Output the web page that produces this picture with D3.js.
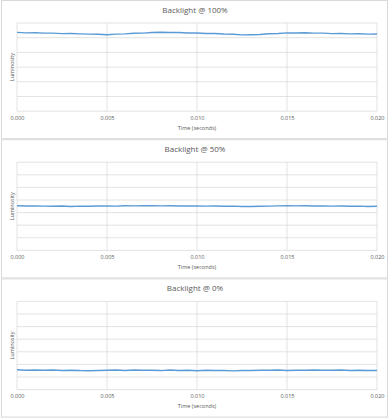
<!DOCTYPE html>
<html>
<head>
<meta charset="utf-8">
<script src="https://cdn.jsdelivr.net/npm/d3@7"></script>
<style>
  body { margin: 0; background: #fff; }
  text { font-family: "Open Sans", sans-serif; fill: #595959; }
</style>
</head>
<body>
<div id="chart"></div>
<script>
// sample times (seconds)
var times = [0.0000, 0.0005, 0.0010, 0.0015, 0.0020, 0.0025, 0.0030, 0.0035, 0.0040, 0.0045,
             0.0050, 0.0055, 0.0060, 0.0065, 0.0070, 0.0075, 0.0080, 0.0085, 0.0090, 0.0095,
             0.0100, 0.0105, 0.0110, 0.0115, 0.0120, 0.0125, 0.0130, 0.0135, 0.0140, 0.0145,
             0.0150, 0.0155, 0.0160, 0.0165, 0.0170, 0.0175, 0.0180, 0.0185, 0.0190, 0.0195,
             0.0200];

var lum100 = [53.6, 53.3, 53.4, 53.1, 53.1, 52.8, 52.9, 52.6, 52.4, 52.3,
              52.0, 52.4, 52.6, 53.0, 53.1, 53.5, 53.7, 53.5, 53.5, 53.2,
              53.2, 52.9, 52.9, 52.5, 52.3, 51.9, 52.0, 52.2, 52.7, 52.9,
              53.3, 53.2, 53.4, 53.1, 53.1, 52.8, 52.9, 52.6, 52.7, 52.4,
              52.5];
var lum50 = [35.4, 35.2, 35.3, 35.1, 35.0, 35.2, 34.9, 35.1, 35.0, 35.2,
             35.3, 35.1, 35.4, 35.3, 35.5, 35.4, 35.3, 35.4, 35.2, 35.3,
             35.2, 35.1, 35.2, 35.0, 35.1, 34.9, 34.8, 35.0, 35.1, 35.3,
             35.4, 35.3, 35.4, 35.2, 35.3, 35.1, 35.2, 35.0, 35.1, 34.9,
             35.0];
var lum0 = [15.8, 15.4, 15.6, 15.3, 15.5, 15.2, 15.4, 15.1, 15.0, 15.2,
            15.3, 15.5, 15.2, 15.6, 15.3, 15.4, 15.1, 15.5, 15.2, 15.3,
            15.0, 15.3, 15.1, 15.2, 14.9, 15.1, 15.2, 15.4, 15.3, 15.5,
            15.2, 15.4, 15.3, 15.6, 15.4, 15.3, 15.5, 15.2, 15.3, 15.1,
            15.2];

var titles = ["Backlight @ 100%", "Backlight @ 50%", "Backlight @ 0%"];
var yMax = [60, 70, 70];
var xTicks = [0, 0.005, 0.010, 0.015, 0.020];

var panels = [lum100, lum50, lum0].map(function (vals, i) {
    return {
        title: titles[i],
        ymax: yMax[i],
        points: times.map(function (t, j) { return { t: t, v: vals[j] }; })
    };
});

var svgWidth = 390;
var svgHeight = 419;
var panelH = 139.2;
var margin = { top: 23, left: 17, right: 13, bottom: 28 };
var width = svgWidth - margin.left - margin.right;
var height = panelH - margin.top - margin.bottom;

var svg = d3.select("#chart")
    .append("svg")
    .attr("width", svgWidth)
    .attr("height", svgHeight);

var x = d3.scaleLinear()
    .domain([0, 0.02])
    .range([0, width]);

panels.forEach(function (p, i) {
    var top = i * panelH;

    // panel frame
    svg.append("rect")
        .attr("x", 1.5)
        .attr("y", top + 0.5)
        .attr("width", 386)
        .attr("height", panelH - 1)
        .style("fill", "#fff")
        .style("stroke", "#d9d9d9")
        .style("stroke-width", 1);

    var g = svg.append("g")
        .attr("transform", "translate(" + margin.left + "," + (top + margin.top) + ")");

    var y = d3.scaleLinear()
        .domain([0, p.ymax])
        .range([height, 0]);

    // grid
    g.append("g")
        .selectAll("line.h")
        .data(y.ticks(p.ymax / 10))
        .join("line")
        .attr("x1", 0)
        .attr("x2", width)
        .attr("y1", d => y(d))
        .attr("y2", d => y(d))
        .style("stroke", "#d9d9d9")
        .style("stroke-width", 0.75);

    g.append("g")
        .selectAll("line.v")
        .data(xTicks)
        .join("line")
        .attr("x1", d => x(d))
        .attr("x2", d => x(d))
        .attr("y1", 0)
        .attr("y2", height)
        .style("stroke", "#d9d9d9")
        .style("stroke-width", 0.75);

    // x tick labels
    var xAxis = d3.axisBottom(x)
        .tickValues(xTicks)
        .tickSize(0)
        .tickPadding(5)
        .tickFormat(d3.format(".3f"));

    g.append("g")
        .attr("class", "x axis")
        .attr("transform", "translate(0," + height + ")")
        .call(xAxis)
        .call(s => s.select(".domain").remove())
        .selectAll("text")
        .style("font-size", "5.5px")
        .style("font-family", "Open Sans, sans-serif")
        .attr("fill", "#595959");

    // line
    var line = d3.line()
        .x(d => x(d.t))
        .y(d => y(d.v));

    g.append("path")
        .datum(p.points)
        .attr("fill", "none")
        .attr("stroke", "#5b9bd5")
        .attr("stroke-width", 1.4)
        .attr("stroke-linejoin", "round")
        .attr("d", line);

    // title
    svg.append("text")
        .attr("x", svgWidth / 2)
        .attr("y", top + 12.5)
        .attr("text-anchor", "middle")
        .style("font-size", "8px")
        .text(p.title);

    // axis titles
    svg.append("text")
        .attr("x", margin.left + width / 2)
        .attr("y", top + 129.5)
        .attr("text-anchor", "middle")
        .style("font-size", "5.5px")
        .text("Time (seconds)");

    svg.append("text")
        .attr("transform", "translate(14," + (top + margin.top + height / 2) + ") rotate(-90)")
        .attr("text-anchor", "middle")
        .style("font-size", "5.5px")
        .text("Luminosity");
});
</script>
</body>
</html>
